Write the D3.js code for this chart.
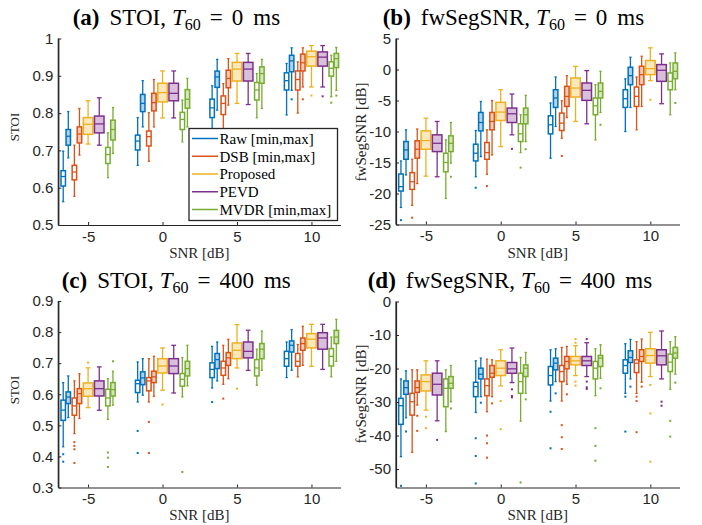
<!DOCTYPE html>
<html><head><meta charset="utf-8">
<script src="https://cdn.jsdelivr.net/npm/d3@7"></script>
<style>body{margin:0;background:#fff} svg{display:block}</style>
</head><body><svg id="chart" width="702" height="525"></svg>
<script>
// ---------------- DATA ----------------
const snrLevels = [-5, 0, 5, 10];
const xTickValues = [-5, 0, 5, 10];
const methodNames = ["Raw", "DSB", "Proposed", "PEVD", "MVDR"];
const legendLabels = ["Raw [min,max]", "DSB [min,max]", "Proposed", "PEVD", "MVDR [min,max]"];
const boxNames = ["Raw min", "Raw max", "DSB min", "DSB max", "Proposed", "PEVD", "MVDR min", "MVDR max"];
const boxMethod = [0, 0, 1, 1, 2, 3, 4, 4];

// each box: [whiskerLow, q1, median, q3, whiskerHigh] for SNR -5, 0, 5, 10
// (a) STOI, T60 = 0 ms
const aRawMin  = [[0.5625,0.6045,0.630,0.6455,0.698],[0.660,0.701,0.725,0.741,0.788],[0.745,0.788,0.814,0.8375,0.873],[0.795,0.862,0.887,0.908,0.933]];
const aRawMax  = [[0.680,0.714,0.738,0.756,0.804],[0.763,0.804,0.826,0.850,0.887],[0.808,0.869,0.897,0.9125,0.944],[0.861,0.911,0.940,0.955,0.975]];
const aDSBMin  = [[0.577,0.621,0.642,0.660,0.714],[0.671,0.712,0.737,0.752,0.801],[0.755,0.796,0.826,0.846,0.879],[0.800,0.862,0.890,0.913,0.9375]];
const aDSBMax  = [[0.6875,0.720,0.744,0.763,0.8125],[0.763,0.806,0.828,0.853,0.890],[0.8215,0.868,0.893,0.915,0.946],[0.870,0.913,0.935,0.958,0.975]];
const aProp    = [[0.717,0.743,0.770,0.788,0.833],[0.787,0.830,0.855,0.880,0.913],[0.826,0.886,0.918,0.936,0.960],[0.870,0.926,0.951,0.966,0.981]];
const aPEVD    = [[0.714,0.747,0.771,0.792,0.841],[0.787,0.833,0.853,0.880,0.913],[0.823,0.886,0.918,0.936,0.960],[0.870,0.926,0.950,0.964,0.981]];
const aMVDRMin = [[0.627,0.665,0.689,0.708,0.747],[0.723,0.756,0.783,0.802,0.835],[0.7875,0.835,0.862,0.882,0.906],[0.844,0.899,0.920,0.9375,0.955]];
const aMVDRMax = [[0.692,0.728,0.756,0.781,0.815],[0.763,0.813,0.837,0.863,0.893],[0.8125,0.880,0.906,0.924,0.944],[0.861,0.922,0.946,0.960,0.976]];
// outliers: [snrIndex, boxIndex, value]
const aOutliers = [[3,1,0.837],[3,3,0.837],[3,4,0.847],[3,5,0.845],[3,6,0.828],[3,7,0.847]];

// (b) fwSegSNR, T60 = 0 ms
const bRawMin  = [[-22.25,-19.6,-18.9,-16.86,-14.75],[-17.3,-14.75,-13.5,-12.05,-9.84],[-14.32,-10.38,-8.92,-7.47,-5.4],[-10.0,-6.12,-4.71,-3.26,-1.5]];
const bRawMax  = [[-17.0,-14.48,-12.97,-11.62,-9.73],[-14.05,-9.9,-8.55,-6.93,-5.15],[-9.19,-6.12,-4.6,-3.26,-1.2],[-6.12,-2.45,-0.99,0.36,1.98]];
const bDSBMin  = [[-21.9,-19.34,-18.1,-16.64,-14.48],[-16.9,-14.48,-13.4,-11.78,-9.73],[-11.08,-9.84,-8.65,-7.03,-5.04],[-9.73,-5.96,-4.34,-2.83,-1.2]];
const bDSBMax  = [[-18.4,-14.3,-12.86,-11.5,-9.6],[-13.78,-9.73,-8.38,-6.93,-5.0],[-7.74,-5.96,-4.34,-2.72,-0.99],[-5.96,-2.45,-0.83,0.52,2.14]];
const bProp    = [[-17.2,-12.86,-11.46,-9.9,-7.84],[-12.43,-8.22,-6.87,-5.3,-3.26],[-8.38,-4.44,-2.99,-1.37,0.52],[-1.8,-0.83,0.14,1.44,3.49]];
const bPEVD    = [[-17.3,-13.24,-11.9,-10.54,-8.38],[-10.54,-8.55,-7.14,-6.22,-3.96],[-8.76,-4.98,-3.36,-2.18,-0.18],[-5.52,-1.91,-0.13,0.79,2.52]];
const bMVDRMin = [[-20.8,-16.5,-15.0,-13.5,-11.35],[-13.4,-11.62,-10.38,-8.76,-7.3],[-11.35,-7.3,-5.85,-4.6,-2.45],[-7.3,-3.26,-1.91,-0.56,1.06]];
const bMVDRMax = [[-15.1,-13.24,-11.9,-10.7,-8.55],[-11.62,-8.76,-7.3,-6.22,-4.17],[-6.93,-4.6,-3.53,-2.18,-0.29],[-3.26,-1.48,-0.29,1.06,2.68]];
const bOutliers = [[0,0,-24.3],[0,2,-23.9],[0,7,-17.3],[1,0,-19.07],[1,2,-18.8],[1,5,-12.8],[1,6,-15.83],[1,7,-12.86],[2,2,-13.94],[2,7,-8.92],[3,4,-4.88],[3,7,-5.4]];

// (c) STOI, T60 = 400 ms
const cRawMin  = [[0.431,0.516,0.549,0.581,0.6375],[0.575,0.6055,0.634,0.645,0.704],[0.620,0.6535,0.680,0.701,0.754],[0.6535,0.690,0.7145,0.738,0.768]];
const cRawMax  = [[0.525,0.570,0.591,0.6075,0.659],[0.597,0.631,0.6525,0.672,0.7145],[0.643,0.6825,0.7115,0.731,0.768],[0.677,0.736,0.7575,0.7715,0.808]];
const cDSBMin  = [[0.4735,0.5325,0.5625,0.588,0.643],[0.575,0.611,0.643,0.6535,0.7145],[0.632,0.661,0.6845,0.706,0.7575],[0.656,0.690,0.706,0.731,0.760]];
const cDSBMax  = [[0.522,0.570,0.602,0.618,0.666],[0.5935,0.6375,0.656,0.674,0.722],[0.650,0.693,0.717,0.734,0.777],[0.693,0.7415,0.763,0.781,0.8185]];
const cProp    = [[0.557,0.5935,0.618,0.6365,0.685],[0.613,0.6685,0.691,0.7145,0.749],[0.6845,0.7145,0.7415,0.765,0.824],[0.690,0.749,0.777,0.795,0.825]];
const cPEVD    = [[0.5485,0.5945,0.618,0.643,0.688],[0.604,0.6665,0.691,0.7145,0.7575],[0.677,0.717,0.738,0.768,0.806],[0.680,0.745,0.781,0.798,0.825]];
const cMVDRMin = [[0.519,0.5625,0.588,0.616,0.650],[0.5915,0.626,0.648,0.6665,0.718],[0.629,0.659,0.6845,0.7115,0.745],[0.656,0.691,0.722,0.747,0.784]];
const cMVDRMax = [[0.565,0.5945,0.615,0.6375,0.674],[0.627,0.659,0.6825,0.706,0.7575],[0.677,0.7145,0.745,0.763,0.8035],[0.706,0.763,0.784,0.8055,0.841]];
const cOutliers = [[0,0,0.407],[0,0,0.383],[0,2,0.446],[0,2,0.434],[0,2,0.423],[0,2,0.379],[0,4,0.702],[0,6,0.4125],[0,6,0.396],[0,6,0.366],[0,7,0.706],
  [1,0,0.482],[1,0,0.411],[1,2,0.511],[1,2,0.411],[1,4,0.567],[1,6,0.350],[2,0,0.575],[2,2,0.586],[2,4,0.618]];

// (d) fwSegSNR, T60 = 400 ms
const dRawMin  = [[-46.3,-36.65,-31.1,-28.9,-23.1],[-33.1,-28.4,-25.4,-24.1,-17.7],[-29.7,-24.9,-22.1,-19.4,-14.4],[-27.4,-21.4,-19.1,-17.4,-12.6]];
const dRawMax  = [[-34.7,-27.7,-25.7,-23.7,-20.7],[-28.4,-23.1,-21.7,-19.9,-16.9],[-23.9,-20.4,-18.4,-16.9,-14.1],[-23.1,-18.2,-16.7,-14.7,-11.3]];
const dDSBMin  = [[-45.0,-33.9,-29.9,-27.4,-20.4],[-32.9,-28.1,-25.1,-23.1,-17.2],[-29.7,-23.9,-20.9,-19.1,-13.7],[-27.4,-21.2,-18.4,-17.4,-12.0]];
const dDSBMax  = [[-30.9,-27.1,-25.7,-23.7,-20.4],[-28.4,-22.6,-21.4,-19.1,-17.4],[-24.7,-20.1,-17.9,-16.4,-13.4],[-24.1,-17.9,-16.4,-14.4,-11.2]];
const dProp    = [[-32.4,-26.7,-23.9,-21.9,-17.7],[-25.2,-22.1,-19.9,-17.7,-14.4],[-22.1,-18.9,-17.7,-16.4,-13.2],[-22.4,-18.4,-16.1,-14.1,-9.2]];
const dPEVD    = [[-35.6,-27.9,-24.7,-21.4,-17.7],[-24.2,-21.4,-20.1,-18.2,-13.9],[-22.4,-19.1,-17.7,-16.4,-12.3],[-23.1,-18.9,-16.2,-14.4,-8.8]];
const dMVDRMin = [[-38.8,-31.4,-25.9,-23.1,-20.4],[-35.7,-27.4,-23.9,-21.4,-16.7],[-28.1,-23.1,-19.9,-17.9,-14.1],[-26.2,-20.9,-18.1,-15.7,-12.0]];
const dMVDRMax = [[-29.9,-25.9,-24.4,-22.4,-19.1],[-27.4,-22.4,-19.9,-18.9,-15.2],[-22.9,-19.4,-16.9,-16.1,-12.9],[-21.7,-16.9,-15.4,-13.7,-10.5]];
const dOutliers = [[0,0,-55],[0,1,-38.8],[0,3,-34.1],[0,3,-38.6],[0,4,-34.4],[0,4,-37.8],[0,5,-41.3],[0,7,-31.9],
  [1,0,-40.8],[1,0,-46.1],[1,0,-54.3],[1,1,-30.2],[1,2,-40.0],[1,2,-42.3],[1,2,-46.6],[1,3,-30.4],[1,4,-29.7],[1,4,-38.1],[1,5,-26.2],[1,5,-28.2],[1,5,-28.6],[1,6,-54],[1,7,-29.2],
  [2,0,-32.9],[2,0,-43.8],[2,1,-27.4],[2,2,-36.9],[2,2,-40.5],[2,2,-44.0],[2,3,-27.7],[2,4,-11.2],[2,4,-12.3],[2,4,-23.9],[2,4,-25.1],[2,5,-11.2],[2,5,-23.9],[2,5,-25.6],[2,5,-26.1],[2,6,-37.8],[2,6,-43.1],[2,6,-47.5],[2,7,-25.9],
  [3,0,-28.4],[3,0,-38.8],[3,1,-25.4],[3,2,-28.4],[3,2,-29.7],[3,2,-39.0],[3,3,-25.4],[3,4,-24.9],[3,4,-33.4],[3,4,-47.8],[3,5,-29.9],[3,5,-31.1],[3,6,-35.6],[3,6,-40.3],[3,7,-24.2]];

const yTicksSTOI0 = [0.5, 0.6, 0.7, 0.8, 0.9, 1];
const yTicksSeg0 = [-25, -20, -15, -10, -5, 0, 5];
const yTicksSTOI400 = [0.3, 0.4, 0.5, 0.6, 0.7, 0.8, 0.9];
const yTicksSeg400 = [-50, -40, -30, -20, -10, 0];

// ---------------- STYLE / LAYOUT ----------------
const colors = ["#0072BD", "#D95319", "#EDB120", "#7E2F8E", "#77AC30"];
const boxFilled = [false, true, false, true, true, true, false, true];
const boxWide = [false, false, false, false, true, true, false, false];
const boxOffset = [-1.67, -1.33, -0.92, -0.58, 0, 0.75, 1.33, 1.67];
const axisColor = "#262626";
const serif = "'Liberation Serif','Times New Roman',Times,serif";
const sans = "'Liberation Sans',Arial,Helvetica,sans-serif";

const panels = [
  {letter:"(a)", metric:"STOI,", t60:"0", ylabel:"STOI", ylabSize:13, yDomain:[0.5,1], yTicks:yTicksSTOI0,
   box:{l:58.3,r:340.5,t:38.5,b:225}, titleX:72.7, titleY:25, ylabX:14.5, ylabY:127, xlabY:258,
   data:[aRawMin,aRawMax,aDSBMin,aDSBMax,aProp,aPEVD,aMVDRMin,aMVDRMax], outliers:aOutliers, legend:true},
  {letter:"(b)", metric:"fwSegSNR,", t60:"0", ylabel:"fwSegSNR [dB]", ylabSize:15, yDomain:[-25,5], yTicks:yTicksSeg0,
   box:{l:396,r:679.5,t:38.5,b:224.5}, titleX:382.7, titleY:25, ylabX:361, ylabY:132, xlabY:258,
   data:[bRawMin,bRawMax,bDSBMin,bDSBMax,bProp,bPEVD,bMVDRMin,bMVDRMax], outliers:bOutliers},
  {letter:"(c)", metric:"STOI,", t60:"400", ylabel:"STOI", ylabSize:13, yDomain:[0.3,0.9], yTicks:yTicksSTOI400,
   box:{l:58.3,r:340.5,t:301,b:487.5}, titleX:61.7, titleY:288, ylabX:14.5, ylabY:390, xlabY:520,
   data:[cRawMin,cRawMax,cDSBMin,cDSBMax,cProp,cPEVD,cMVDRMin,cMVDRMax], outliers:cOutliers},
  {letter:"(d)", metric:"fwSegSNR,", t60:"400", ylabel:"fwSegSNR [dB]", ylabSize:15, yDomain:[-55.5,0], yTicks:yTicksSeg400,
   box:{l:396,r:679.5,t:301.5,b:487.5}, titleX:367.7, titleY:288, ylabX:361, ylabY:394, xlabY:520,
   data:[dRawMin,dRawMax,dDSBMin,dDSBMax,dProp,dPEVD,dMVDRMin,dMVDRMax], outliers:dOutliers}
];

const svg = d3.select("#chart");
svg.append("rect").attr("width",702).attr("height",525).attr("fill","#fff");
const fmt = v => String(+v.toFixed(2));

panels.forEach(p => {
  const x = d3.scaleLinear().domain([-7, 11.95]).range([p.box.l, p.box.r]);
  const y = d3.scaleLinear().domain(p.yDomain).range([p.box.b, p.box.t]);
  const pxPerDb = x(1) - x(0);
  const g = svg.append("g");

  // boxes
  p.data.forEach((series, bi) => {
    const col = colors[boxMethod[bi]];
    const w = (boxWide[bi] ? 0.64 : 0.3) * pxPerDb;
    series.forEach((s, gi) => {
      const [lo, q1, med, q3, hi] = s;
      const cx = x(snrLevels[gi] + boxOffset[bi]);
      const bg = g.append("g");
      bg.append("line").attr("x1",cx).attr("x2",cx).attr("y1",y(lo)).attr("y2",y(q1))
        .attr("stroke",col).attr("stroke-width",1.3);
      bg.append("line").attr("x1",cx).attr("x2",cx).attr("y1",y(q3)).attr("y2",y(hi))
        .attr("stroke",col).attr("stroke-width",1.3);
      [lo, hi].forEach(v => bg.append("line").attr("x1",cx-w/4).attr("x2",cx+w/4)
        .attr("y1",y(v)).attr("y2",y(v)).attr("stroke",col).attr("stroke-width",1.3));
      bg.append("rect").attr("x",cx-w/2).attr("width",w).attr("y",y(q3)).attr("height",y(q1)-y(q3))
        .attr("fill","#fff").attr("stroke","none");
      bg.append("rect").attr("x",cx-w/2).attr("width",w).attr("y",y(q3)).attr("height",y(q1)-y(q3))
        .attr("fill",col).attr("fill-opacity",boxFilled[bi]?0.3:0)
        .attr("stroke",col).attr("stroke-width",1.5);
      bg.append("line").attr("x1",cx-w/2).attr("x2",cx+w/2).attr("y1",y(med)).attr("y2",y(med))
        .attr("stroke",col).attr("stroke-width",1.3);
    });
  });
  // outliers
  g.selectAll(".out").data(p.outliers).enter().append("rect")
    .attr("x", d => x(snrLevels[d[0]] + boxOffset[d[1]]) - 1)
    .attr("y", d => Math.min(y(d[2]), p.box.b - 1) - 1)
    .attr("width",2).attr("height",2)
    .attr("fill", d => colors[boxMethod[d[1]]]);

  // axes
  const ya = d3.axisLeft(y).tickValues(p.yTicks).tickFormat(fmt).tickSizeInner(-3).tickSizeOuter(0).tickPadding(5);
  const xa = d3.axisBottom(x).tickValues(xTickValues).tickFormat(fmt).tickSizeInner(-3).tickSizeOuter(0).tickPadding(6);
  const yg = g.append("g").attr("transform",`translate(${p.box.l},0)`).call(ya);
  const xg = g.append("g").attr("transform",`translate(0,${p.box.b})`).call(xa);
  [yg, xg].forEach(a => {
    a.select(".domain").attr("stroke",axisColor).attr("stroke-width",1.2);
    a.selectAll(".tick line").attr("stroke",axisColor).attr("stroke-width",1);
    a.selectAll(".tick text").attr("fill",axisColor).attr("font-family",sans).attr("font-size",15);
  });
  g.append("line").attr("x1",p.box.l).attr("x2",p.box.l).attr("y1",p.box.t).attr("y2",p.box.b)
    .attr("stroke",axisColor).attr("stroke-width",1.2);

  // labels
  g.append("text").attr("x",(p.box.l+p.box.r)/2).attr("y",p.xlabY).attr("text-anchor","middle")
    .attr("font-family",serif).attr("font-size",15).attr("fill",axisColor).text("SNR [dB]");
  g.append("text").attr("transform",`translate(${p.ylabX},${p.ylabY}) rotate(-90)`).attr("text-anchor","middle")
    .attr("dy","0.35em").attr("font-family",serif).attr("font-size",p.ylabSize).attr("fill",axisColor).text(p.ylabel);

  // title
  const t = g.append("text").attr("x",p.titleX).attr("y",p.titleY).attr("text-anchor","start")
    .attr("font-family",serif).attr("font-size",23).attr("fill","#000");
  t.append("tspan").attr("font-weight","bold").text(p.letter);
  t.append("tspan").attr("dx",10).text(p.metric);
  t.append("tspan").attr("dx",6).attr("font-style","italic").text("T");
  t.append("tspan").attr("font-size",16).attr("dy",4.5).text("60");
  t.append("tspan").attr("dx",9).attr("dy",-4.5).text("=");
  t.append("tspan").attr("dx",9).text(p.t60);
  t.append("tspan").attr("dx",10).text("ms");

  // legend
  if (p.legend) {
    const lg = g.append("g");
    const lx = 189, ly = 128.5, lw = 148.5, lh = 92;
    lg.append("rect").attr("x",lx).attr("y",ly).attr("width",lw).attr("height",lh)
      .attr("fill","#fff").attr("stroke",axisColor).attr("stroke-width",1.3);
    legendLabels.forEach((lab, i) => {
      const yy = ly + 10 + i * 17.75;
      lg.append("line").attr("x1",lx+3).attr("x2",lx+29).attr("y1",yy).attr("y2",yy)
        .attr("stroke",colors[i]).attr("stroke-width",1.5);
      lg.append("text").attr("x",lx+30.5).attr("y",yy).attr("dy","0.35em")
        .attr("font-family",serif).attr("font-size",15).attr("fill","#000").text(lab);
    });
  }
});
</script>
</body></html>
